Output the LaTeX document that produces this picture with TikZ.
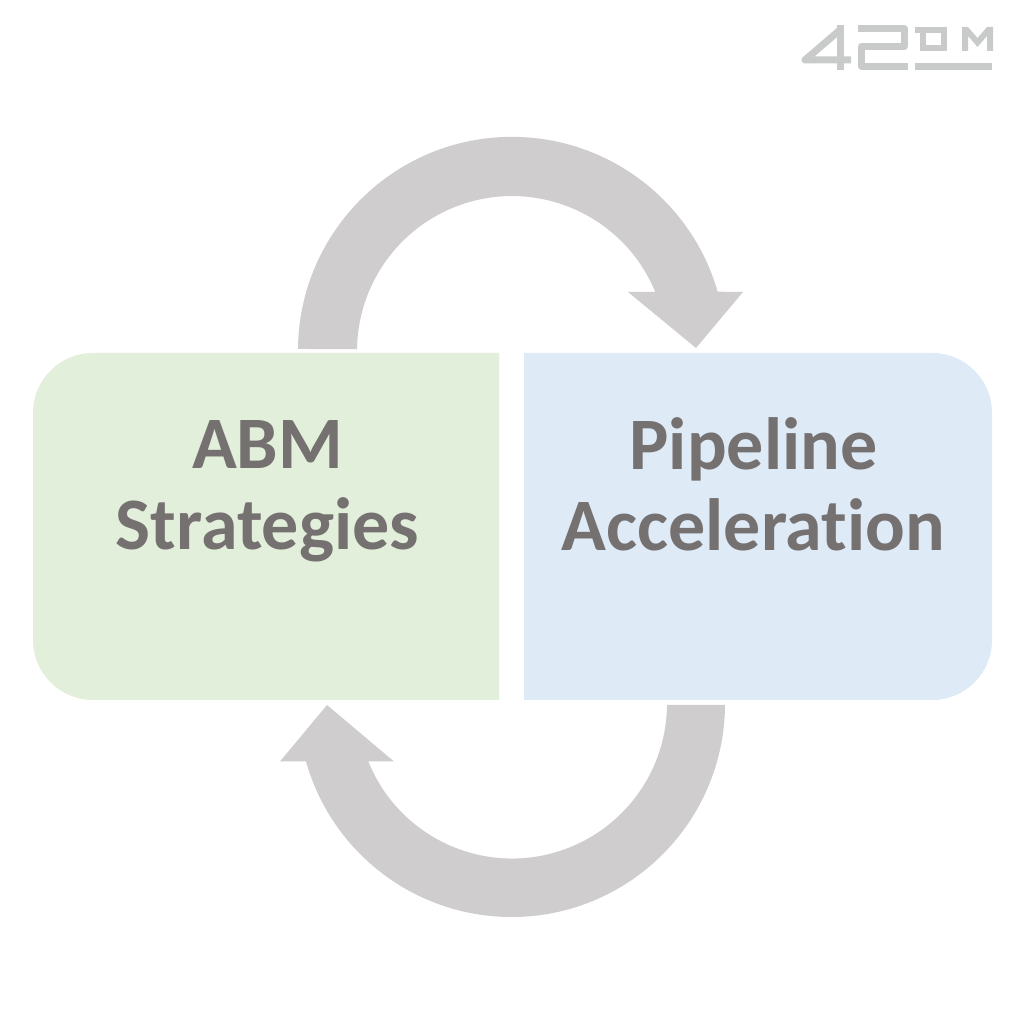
\documentclass[tikz,border=0pt]{standalone}
\usepackage{fontspec}
\setmainfont[Ligatures=NoCommon]{Carlito}
\definecolor{arrowgrey}{HTML}{CFCDCE}
\definecolor{boxgreen}{HTML}{E2EFDA}
\definecolor{boxblue}{HTML}{DEEAF6}
\definecolor{textgrey}{HTML}{767171}
\definecolor{logogrey}{HTML}{C9CBCB}
\tikzset{
  px/.style={x=1pt,y=1pt},
  block/.style={fill=arrowgrey,draw=none},
  boxtext/.style={text=textgrey,font=\fontsize{74}{81}\selectfont\bfseries,align=center,inner sep=0pt,anchor=center},
  logostroke/.style={draw=logogrey,line width=7pt,line cap=butt,line join=round},
  logothin/.style={draw=logogrey,line width=6pt,line cap=butt,line join=miter},
}
\begin{document}
\begin{tikzpicture}[px]
\useasboundingbox (0,0) rectangle (1024,1024);
\fill[white] (0,0) rectangle (1024,1024);
% top arrow
\fill[block] (298,675) arc[start angle=179.5,end angle=16.05,radius=214]
  -- (743,732) -- (696,676) -- (628,732) -- (655.3,732)
  arc[start angle=22.4,end angle=179.26,radius=155] -- cycle;
% bottom arrow
\fill[block] (725,319) arc[start angle=-0.4,end angle=-164.24,radius=213.5]
  -- (280,262.5) -- (327,319) -- (394,262.5) -- (368.3,262.5)
  arc[start angle=-158.03,end angle=-0.55,radius=155] -- cycle;
% boxes
\fill[boxgreen] (499,671) -- (93,671) arc[start angle=90,end angle=180,radius=60]
  -- (33,384) arc[start angle=180,end angle=270,radius=60] -- (499,324) -- cycle;
\fill[boxblue] (524,671) -- (932,671) arc[start angle=90,end angle=0,radius=60]
  -- (992,384) arc[start angle=0,end angle=-90,radius=60] -- (524,324) -- cycle;
\node[boxtext] (abm) at (267.5,533) {ABM\\Strategies};
\node[boxtext] (pipe) at (753.5,539.5) {Pipeline\\Acceleration};
% logo
\draw[logostroke] (840.5,999) -- (840.5,954);
\draw[logostroke] (851,964) -- (805,964) -- (840,994);
\draw[logostroke] (858,995.5) -- (904,995.5) -- (904,977.5) -- (861.5,977.5) -- (861.5,957.5) -- (908,957.5);
\draw[logothin] (915,994) -- (943.5,994) -- (943.5,976) -- (922.5,976) -- (922.5,997);
\fill[logogrey] (962,973) -- (962,997) -- (968,997) -- (977.5,986) -- (987,997) -- (993,997) -- (993,973)
  -- (987,973) -- (987,988) -- (977.5,977) -- (968,988) -- (968,973) -- cycle;
\fill[logogrey] (915,954) rectangle (992,961);
\end{tikzpicture}
\end{document}
